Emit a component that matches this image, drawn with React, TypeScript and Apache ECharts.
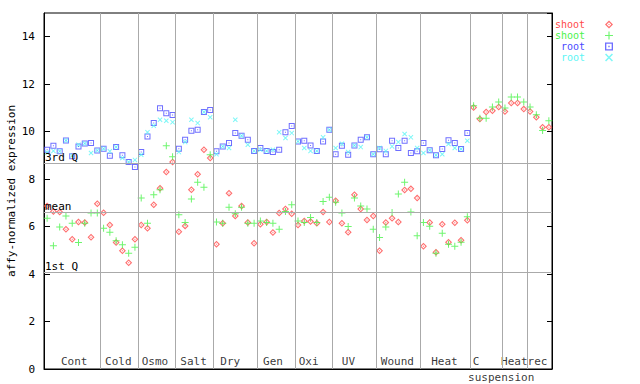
import { useEffect, useRef } from 'react';
import * as echarts from 'echarts';

const groupNames = ['Cont', 'Cold', 'Osmo', 'Salt', 'Dry', 'Gen', 'Oxi', 'UV', 'Wound', 'Heat', 'C', 'Heat', 'rec'];
const groupSizes = [9, 6, 6, 6, 7, 6, 6, 7, 7, 8, 5, 4, 4];
const groupLabelShift = [2, -1, -2, -1, -5, -3, -5, -6, -1, -1, -10, 0, -2];

const shootRed = [
  6.87, 6.64, 6.61, 5.89, 5.47, 6.19, 6.17, 5.55, 6.96,
  6.58, 6.07, 5.33, 4.98, 4.48, 5.47,
  6.07, 5.93, 6.92, 7.62, 8.30, 8.72,
  5.78, 6.03, 7.55, 8.21, 9.24, 8.89,
  5.26, 6.14, 7.41, 6.45, 6.87, 6.17, 5.30,
  6.10, 6.19, 5.75, 6.57, 6.74, 6.54,
  6.07, 6.24, 6.21, 6.14, 6.61, 6.19,
  7.09, 6.14, 5.76, 7.34, 6.74, 6.28, 6.45,
  4.98, 6.17, 6.35, 6.19, 7.54, 7.59, 7.20,
  5.17, 6.17, 4.92, 6.10, 5.34, 6.16, 5.43, 6.27,
  11.02, 10.53, 10.83, 10.88, 11.04,
  10.85, 11.21, 11.21, 10.95,
  10.85, 10.61, 10.19, 10.19,
];

const shootGreen = [
  6.35, 5.19, 5.98, 6.45, 6.14, 5.33, 6.14, 6.57, 6.57,
  5.93, 5.76, 5.40, 5.23, 4.88, 5.13,
  7.20, 6.14, 7.34, 7.55, 9.41, 8.94,
  6.50, 6.17, 7.16, 7.87, 7.66, 9.03,
  6.19, 6.14, 6.82, 6.54, 6.82, 6.14, 6.14,
  6.24, 6.17, 6.14, 5.89, 6.64, 6.92,
  6.24, 6.17, 6.38, 6.17, 7.06, 7.24,
  7.03, 6.57, 6.00, 7.20, 6.87, 6.74, 5.89,
  5.54, 5.98, 6.59, 7.37, 7.87, 6.61, 5.61,
  6.17, 6.02, 4.88, 5.72, 5.26, 5.17, 5.34, 6.41,
  11.09, 10.57, 10.57, 11.04, 11.25,
  11.00, 11.46, 11.46, 11.25,
  11.04, 10.71, 10.05, 10.46,
];

const rootBlue = [
  9.24, 9.41, 9.17, 9.63, 8.96, 9.38, 9.50, 9.52, 9.21,
  9.28, 8.98, 9.35, 9.01, 8.72, 8.51,
  9.14, 9.80, 10.36, 10.99, 10.78, 10.70,
  9.28, 9.66, 10.04, 10.08, 10.83, 10.91,
  9.17, 9.38, 9.52, 9.94, 9.83, 9.66, 9.19,
  9.31, 9.19, 9.14, 9.24, 9.98, 10.24,
  9.59, 9.62, 9.42, 9.19, 9.59, 10.08,
  9.05, 9.41, 9.03, 9.42, 9.66, 9.76, 9.05,
  9.26, 9.05, 9.62, 9.31, 9.62, 9.10, 9.17,
  9.52, 9.22, 9.01, 9.27, 9.64, 9.52, 9.27, 9.94,
  null, null, null, null, null,
  null, null, null, null,
  null, null, null, null,
];

const rootCyan = [
  9.12, 9.19, 9.17, 9.63, 9.00, 9.45, 9.50, 9.10, 9.21,
  9.28, 9.17, 9.35, 8.89, 8.72, 8.81,
  9.03, 9.98, 10.25, 10.50, 10.46, 10.40,
  9.14, 9.56, 10.50, 10.36, 10.83, 10.61,
  9.05, 9.38, 9.31, 10.50, 9.83, 9.45, 9.19,
  9.24, 9.19, 9.24, 9.98, 9.73, 9.94,
  9.59, 9.31, 9.19, 9.19, 9.76, 10.08,
  9.31, 9.49, 9.14, 9.42, 9.35, 9.76, 9.05,
  9.31, 9.19, 9.38, 9.56, 9.90, 9.76, 9.31,
  9.10, 9.22, 9.01, 9.05, 9.48, 9.31, 9.27, 9.62,
  null, null, null, null, null,
  null, null, null, null,
  null, null, null, null,
];

const quartileNames = ['3rd Q', 'mean', '1st Q'];
const quartileValues = [8.68, 6.60, 4.07];
const yTicks = [0, 2, 4, 6, 8, 10, 12, 14];

const FONT = 'DejaVu Sans Mono';
const RED = '#ff4a4a';
const GREEN = '#4af24a';
const BLUE = '#4a4aff';
const CYAN = '#5cf5f5';

const DIAMOND = 'path://M3 0L6 3L3 6L0 3Z M3 1.3L1.3 3L3 4.7L4.7 3Z M3 2.4L3.6 3L3 3.6L2.4 3Z';
const PLUS = 'path://M3 0H4V3H7V4H4V7H3V4H0V3H3Z';
const SQUARE = 'path://M0 0H6V6H0Z M1 1V5H5V1Z M2.5 2.5H3.5V3.5H2.5Z';
const CROSS = 'path://M0 0.7L0.7 0L5 4.3L4.3 5Z M4.3 0L5 0.7L0.7 5L0 4.3Z';

const legendLabels: Record<string, string> = {
  shoot_r: 'shoot',
  shoot_g: 'shoot',
  root_b: 'root',
  root_c: 'root',
};

export default function App() {
  const ref = useRef<HTMLDivElement>(null);
  useEffect(() => {
    const chart = echarts.init(ref.current!, null, { renderer: 'svg' });
    const total = groupSizes.reduce((a, b) => a + b, 0);
    const bounds: number[] = [];
    const centers: number[] = [];
    let acc = 0;
    groupSizes.forEach((s) => {
      centers.push(acc + s / 2);
      acc += s;
      bounds.push(acc);
    });
    bounds.pop();
    const pts = (arr: (number | null)[]) =>
      arr.map((v, i) => [i + 0.5, v]).filter((p) => p[1] != null);

    const labelData: any[] = centers.map((c, i) => ({
      value: [c, 0],
      name: groupNames[i],
      label: { offset: [groupLabelShift[i], 0] },
    }));
    labelData.push({
      value: [centers[10], 0],
      name: 'suspension',
      label: { position: 'bottom', distance: 2, offset: [15, 0] },
    });

    const txt = { fontFamily: FONT, fontSize: 11, color: '#000' };

    chart.setOption({
      animation: false,
      backgroundColor: '#fff',
      grid: {
        left: 44,
        right: 88,
        top: 13,
        bottom: 15,
        containLabel: false,
        outerBoundsMode: 'none',
        show: true,
        borderColor: '#000',
        borderWidth: 1,
      },
      xAxis: {
        type: 'value',
        min: 0,
        max: total,
        axisLine: { show: true, lineStyle: { color: '#000' } },
        axisTick: { show: false },
        axisLabel: { show: false },
        splitLine: { show: false },
      },
      yAxis: [
        {
          type: 'value',
          min: 0,
          max: 15,
          interval: 2,
          position: 'left',
          axisLine: { show: true, lineStyle: { color: '#000' } },
          axisTick: { show: true, inside: true, length: 6, lineStyle: { color: '#000' } },
          axisLabel: {
            ...txt,
            margin: 9,
            showMaxLabel: false,
            formatter: (v: number) => (yTicks.includes(v) ? String(v) : ''),
          },
          splitLine: { show: false },
          name: 'affy-normalized expression',
          nameLocation: 'middle',
          nameGap: 27,
          nameRotate: 90,
          nameMoveOverlap: false,
          nameTextStyle: { ...txt },
        },
        {
          type: 'value',
          min: 0,
          max: 15,
          interval: 2,
          position: 'right',
          axisLine: { show: true, lineStyle: { color: '#000' } },
          axisTick: { show: true, inside: true, length: 5, lineStyle: { color: '#000' } },
          axisLabel: { show: false },
          splitLine: { show: false },
        },
      ],
      legend: {
        orient: 'vertical',
        right: 22,
        top: 14,
        align: 'right',
        itemWidth: 38,
        itemHeight: 8,
        itemGap: 0,
        selectedMode: false,
        formatter: (n: string) => legendLabels[n],
        textStyle: { fontFamily: FONT, fontSize: 10, lineHeight: 11 },
        data: [
          { name: 'shoot_r', textStyle: { color: RED } },
          { name: 'shoot_g', textStyle: { color: GREEN } },
          { name: 'root_b', textStyle: { color: BLUE } },
          { name: 'root_c', textStyle: { color: CYAN } },
        ],
      },
      series: [
        {
          type: 'scatter',
          name: 'groups',
          data: labelData,
          symbolSize: 1,
          itemStyle: { color: 'transparent' },
          silent: true,
          z: 1,
          label: { show: true, position: 'top', distance: 2, formatter: '{b}', ...txt },
          markLine: {
            silent: true,
            symbol: 'none',
            label: { show: false },
            lineStyle: { color: '#aaaaaa', width: 1, type: 'solid' },
            data: [
              ...bounds.map((b) => ({ xAxis: b })),
              ...quartileValues.map((q, i) => ({
                yAxis: q,
                label: {
                  show: true,
                  formatter: quartileNames[i],
                  position: 'insideStartTop',
                  distance: [1, 0],
                  ...txt,
                },
              })),
            ],
          },
        },
        {
          type: 'scatter',
          name: 'shoot_r',
          data: pts(shootRed),
          symbol: DIAMOND,
          symbolSize: 7,
          itemStyle: { color: RED },
          z: 3,
        },
        {
          type: 'scatter',
          name: 'shoot_g',
          data: pts(shootGreen),
          symbol: PLUS,
          symbolSize: 7,
          itemStyle: { color: GREEN },
          z: 3,
        },
        {
          type: 'scatter',
          name: 'root_b',
          data: pts(rootBlue),
          symbol: SQUARE,
          symbolSize: 6,
          itemStyle: { color: BLUE },
          z: 3,
        },
        {
          type: 'scatter',
          name: 'root_c',
          data: pts(rootCyan),
          symbol: CROSS,
          symbolSize: 5,
          itemStyle: { color: CYAN },
          z: 3,
        },
      ],
    });
    return () => chart.dispose();
  }, []);
  return <div ref={ref} style={{ position: 'fixed', left: 0, top: 0, width: 640, height: 384 }} />;
}
